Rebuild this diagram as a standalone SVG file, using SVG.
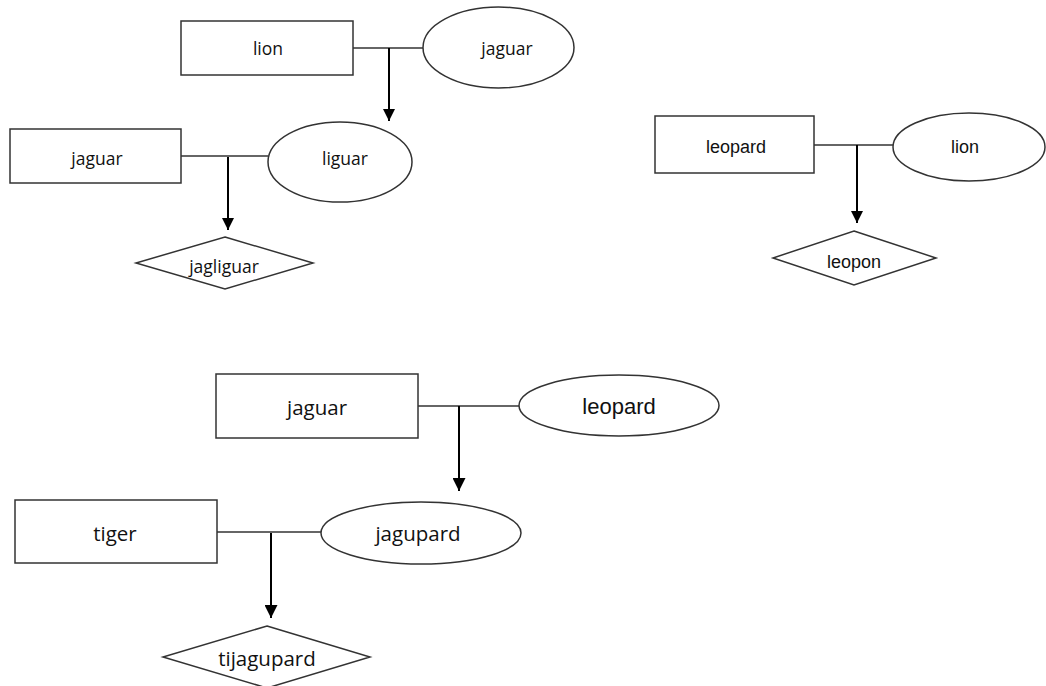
<svg xmlns="http://www.w3.org/2000/svg" width="1046" height="686" viewBox="0 0 1046 686">
<style>
.box{fill:#fff;stroke:#333;stroke-width:1.5}
.link{fill:none;stroke:#333;stroke-width:1.4}
.arrow{fill:none;stroke:#000;stroke-width:2}
.t{font-family:"Open Sans","Noto Sans",sans-serif;fill:#111;text-anchor:middle}
.s{font-size:17.5px}
.b{font-size:20.5px}
.a{font-family:"Liberation Sans",Arial,sans-serif;fill:#111;text-anchor:middle}
</style>
<defs>
<marker id="ah" viewBox="0 0 12 12" refX="12" refY="6" markerWidth="12" markerHeight="12" markerUnits="userSpaceOnUse" orient="auto">
<path d="M0,0 L12,6 L0,12 Z" fill="#000"/>
</marker>
<marker id="ahb" viewBox="0 0 13 13" refX="13" refY="6.5" markerWidth="13" markerHeight="13" markerUnits="userSpaceOnUse" orient="auto">
<path d="M0,0 L13,6.5 L0,13 Z" fill="#000"/>
</marker>
</defs>
<rect width="1046" height="686" fill="#fff"/>
<g id="connectors">
<line class="link" x1="353" y1="48" x2="423" y2="48"/>
<line class="arrow" x1="389" y1="48" x2="389" y2="121" marker-end="url(#ah)"/>
<line class="link" x1="181" y1="156" x2="268" y2="156"/>
<line class="arrow" x1="228" y1="157" x2="228" y2="230" marker-end="url(#ah)"/>
<line class="link" x1="814" y1="145" x2="893" y2="145"/>
<line class="arrow" x1="857" y1="145" x2="857" y2="223" marker-end="url(#ah)"/>
<line class="link" x1="418" y1="406" x2="519" y2="406"/>
<line class="arrow" x1="459" y1="406" x2="459" y2="491" marker-end="url(#ahb)"/>
<line class="link" x1="217" y1="532" x2="321" y2="532"/>
<line class="arrow" x1="271" y1="533" x2="271" y2="618" marker-end="url(#ahb)"/>
</g>
<g id="n-lion1">
<rect class="box" x="181" y="21" width="172" height="54"/>
<text class="t s" x="268" y="55">lion</text>
</g>
<g id="n-jaguar1">
<ellipse class="box" cx="498.5" cy="47.5" rx="75.5" ry="40.5"/>
<text class="t s" x="507" y="55">jaguar</text>
</g>
<g id="n-jaguar2">
<rect class="box" x="10" y="129" width="171" height="54"/>
<text class="t s" x="97" y="165">jaguar</text>
</g>
<g id="n-liguar">
<ellipse class="box" cx="340" cy="162" rx="72" ry="40"/>
<text class="t s" x="345" y="165">liguar</text>
</g>
<g id="n-jagliguar">
<polygon class="box" points="225,237 313,263 225,289 136,263"/>
<text class="t s" x="224" y="273">jagliguar</text>
</g>
<g id="n-leopard1">
<rect class="box" x="655" y="116" width="159" height="57"/>
<text class="a" font-size="18" x="736" y="153">leopard</text>
</g>
<g id="n-lion2">
<ellipse class="box" cx="969" cy="147" rx="76" ry="34"/>
<text class="a" font-size="18" x="965" y="153">lion</text>
</g>
<g id="n-leopon">
<polygon class="box" points="854,231 936,258 854,285 773,258"/>
<text class="a" font-size="18" x="854" y="268">leopon</text>
</g>
<g id="n-jaguar3">
<rect class="box" x="216" y="374" width="202" height="64"/>
<text class="t b" x="317" y="415">jaguar</text>
</g>
<g id="n-leopard2">
<ellipse class="box" cx="619" cy="405.5" rx="100" ry="30.5"/>
<text class="a" font-size="22" x="619" y="414">leopard</text>
</g>
<g id="n-tiger">
<rect class="box" x="15" y="500" width="202" height="63"/>
<text class="t b" x="115" y="541">tiger</text>
</g>
<g id="n-jagupard">
<ellipse class="box" cx="421" cy="533" rx="100" ry="31"/>
<text class="t b" x="418" y="541">jagupard</text>
</g>
<g id="n-tijagupard">
<polygon class="box" points="267,626 370,657 267,688 163,657"/>
<text class="t b" x="267" y="666">tijagupard</text>
</g>
</svg>
